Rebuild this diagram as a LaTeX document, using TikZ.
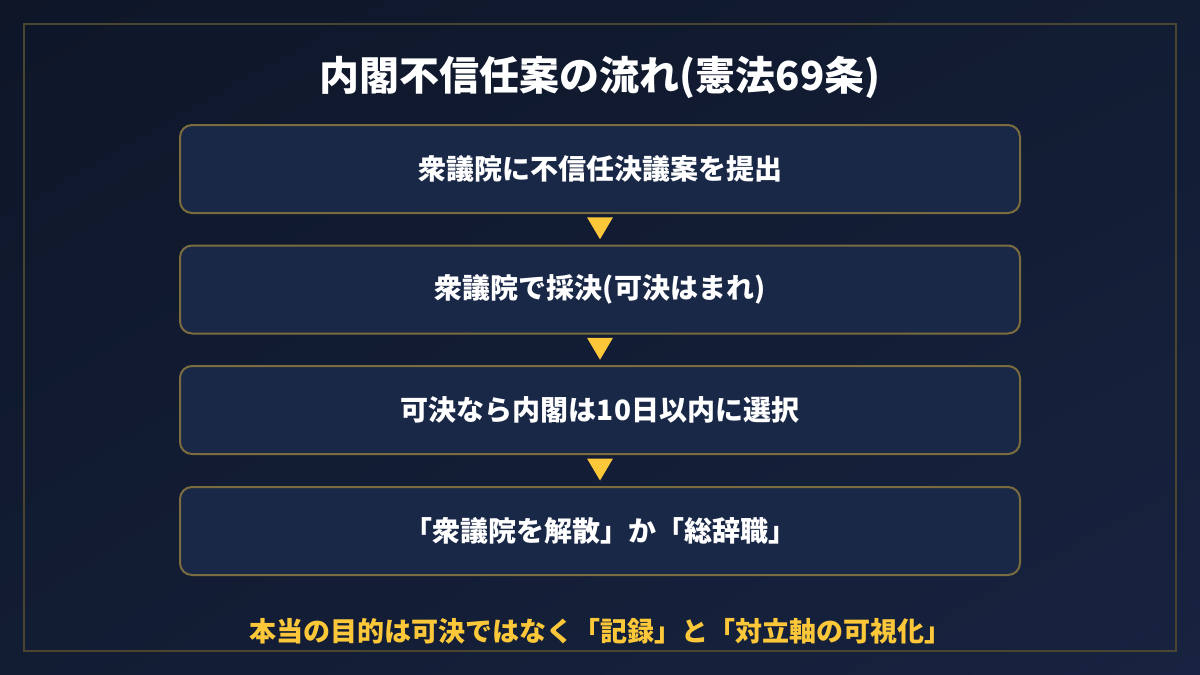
\documentclass[tikz,border=0pt]{standalone}
\usepackage{fontspec}
\setmainfont{Noto Sans CJK JP}
\usetikzlibrary{calc,shadings}
\definecolor{bgA}{HTML}{0E1628}
\definecolor{bgB}{HTML}{172340}
\definecolor{bgM}{HTML}{121C33}
\definecolor{frameC}{HTML}{4A452E}
\definecolor{boxfill}{HTML}{1A2847}
\definecolor{boxline}{HTML}{7A6C3E}
\definecolor{goldC}{HTML}{FCC83A}
\tikzset{
  stepbox/.style={draw=boxline, line width=2pt, fill=boxfill, rounded corners=12pt,
    minimum width=840pt, minimum height=88pt, inner sep=0pt,
    text=white, font=\bfseries\fontsize{28}{32}\selectfont},
  tri/.style={fill=goldC},
}
\begin{document}
\begin{tikzpicture}[x=1pt,y=-1pt]
\useasboundingbox (0,0) rectangle (1200,675);
\shade[upper left=bgA, upper right=bgM, lower left=bgM, lower right=bgB] (0,0) rectangle (1200,675);
\draw[frameC, line width=2pt] (24,24) rectangle (1176,651);
\node[text=white, font=\bfseries\fontsize{40}{46}\selectfont] (title) at (600,77) {内閣不信任案の流れ(憲法69条)};
\node[stepbox] (b1) at (600,169) {衆議院に不信任決議案を提出};
\node[stepbox] (b2) at (600,289.5) {衆議院で採決(可決はまれ)};
\node[stepbox] (b3) at (600,410) {可決なら内閣は10日以内に選択};
\node[stepbox] (b4) at (600,531) {「衆議院を解散」か「総辞職」};
\foreach \a/\b/\m in {b1/b2/m1,b2/b3/m2,b3/b4/m3}{
  \path (\a.south) -- (\b.north) coordinate[midway] (\m);
  \fill[tri] ($(\m)+(-13,-12)$) -- ($(\m)+(13,-12)$) -- ($(\m)+(0,10)$) -- cycle;
}
\node[text=goldC, font=\bfseries\fontsize{27}{31}\selectfont] (foot) at (600,631) {本当の目的は可決ではなく「記録」と「対立軸の可視化」};
\end{tikzpicture}
\end{document}
